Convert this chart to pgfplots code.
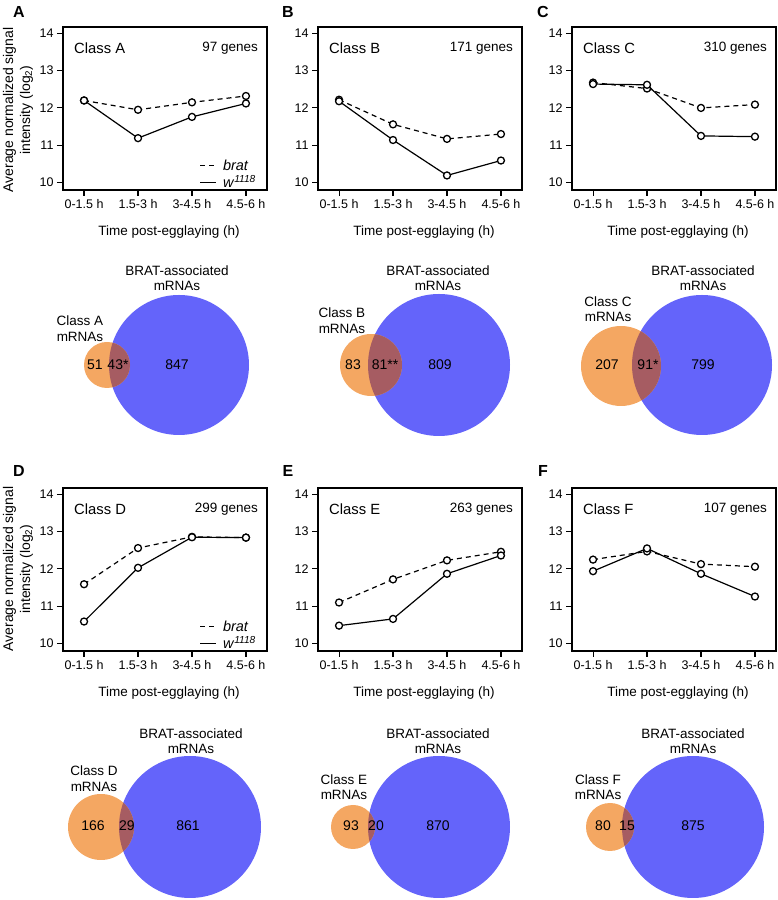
\documentclass[border=0pt]{standalone}
\usepackage{pgfplots}
\pgfplotsset{compat=1.18}
\usepackage{fontspec}
\setmainfont{Liberation Sans}
\definecolor{orangeC}{RGB}{244,167,98}
\definecolor{blueC}{RGB}{100,100,250}
\definecolor{overC}{RGB}{166,92,98}
\newcommand{\fs}[1]{\fontsize{#1}{#1}\selectfont}
\pgfplotsset{
  lineplot/.style={
    width=204pt, height=163pt, scale only axis,
    xmin=-0.39, xmax=3.39, ymin=9.8, ymax=14.17,
    xtick={0,1,2,3}, xticklabels={0-1.5 h,1.5-3 h,3-4.5 h,4.5-6 h},
    ytick={10,11,12,13,14},
    tick align=outside, xtick pos=bottom, ytick pos=left,
    major tick length=6pt,
    axis line style={line width=1.2pt},
    every tick/.style={line width=1.1pt, black},
    tick label style={font=\fs{12.5}},
    /pgf/number format/assume math mode=true,
    clip=false,
    legend style={at={(0.956,-0.01)}, anchor=south east, draw=none, fill=none,
      font=\fs{14.5}, row sep=0pt, inner sep=0pt},
    legend cell align=left,
    legend image code/.code={\draw[##1] (0pt,0pt) -- (16pt,0pt); \path (20pt,0pt);},
  },
  bratS/.style={black, line width=1.2pt, dash pattern=on 5pt off 4pt, mark=*, mark size=3.5pt,
    mark options={solid, fill=white, line width=1.3pt}},
  wS/.style={black, line width=1.2pt, mark=*, mark size=3.5pt,
    mark options={solid, fill=white, line width=1.3pt}},
}
\newcommand{\classlabels}[2]{%
  \node[anchor=west, font=\fs{14.8}, inner sep=0pt] at (rel axis cs:0.054,0.87) {#1};
  \node[anchor=east, font=\fs{13.5}, inner sep=0pt] at (rel axis cs:0.956,0.87) {#2};}
\begin{document}
\begin{tikzpicture}[x=1pt,y=1pt]
\useasboundingbox (0,0) rectangle (778,900);

% ---------- Row 1 ----------
\begin{axis}[lineplot, at={(63pt,710pt)}, anchor=south west]
\addplot[bratS] coordinates {(0,12.20) (1,11.95) (2,12.15) (3,12.32)};
\addplot[wS] coordinates {(0,12.20) (1,11.19) (2,11.76) (3,12.12)};
\legend{\textit{brat},\textit{w}\textsuperscript{\textit{1118}}}
\classlabels{Class A}{97 genes}
\end{axis}

\begin{axis}[lineplot, at={(318pt,710pt)}, anchor=south west]
\addplot[bratS] coordinates {(0,12.22) (1,11.56) (2,11.17) (3,11.30)};
\addplot[wS] coordinates {(0,12.18) (1,11.14) (2,10.19) (3,10.59)};
\classlabels{Class B}{171 genes}
\end{axis}

\begin{axis}[lineplot, at={(572pt,710pt)}, anchor=south west]
\addplot[bratS] coordinates {(0,12.68) (1,12.52) (2,12.00) (3,12.09)};
\addplot[wS] coordinates {(0,12.64) (1,12.62) (2,11.25) (3,11.23)};
\classlabels{Class C}{310 genes}
\end{axis}

% ---------- Row 2 ----------
\begin{axis}[lineplot, at={(63pt,249pt)}, anchor=south west]
\addplot[bratS] coordinates {(0,11.59) (1,12.56) (2,12.86) (3,12.84)};
\addplot[wS] coordinates {(0,10.59) (1,12.03) (2,12.85) (3,12.84)};
\legend{\textit{brat},\textit{w}\textsuperscript{\textit{1118}}}
\classlabels{Class D}{299 genes}
\end{axis}

\begin{axis}[lineplot, at={(318pt,249pt)}, anchor=south west]
\addplot[bratS] coordinates {(0,11.10) (1,11.72) (2,12.23) (3,12.46)};
\addplot[wS] coordinates {(0,10.48) (1,10.66) (2,11.87) (3,12.36)};
\classlabels{Class E}{263 genes}
\end{axis}

\begin{axis}[lineplot, at={(572pt,249pt)}, anchor=south west]
\addplot[bratS] coordinates {(0,12.25) (1,12.47) (2,12.13) (3,12.06)};
\addplot[wS] coordinates {(0,11.94) (1,12.55) (2,11.87) (3,11.26)};
\classlabels{Class F}{107 genes}
\end{axis}

% ---------- Venn diagrams (overlay axis in pixel units) ----------
\begin{axis}[at={(0pt,0pt)}, anchor=south west, width=778pt, height=900pt, scale only axis,
  xmin=0, xmax=778, ymin=0, ymax=900, hide axis, clip=false]
% A
\fill[blueC] (axis cs:179,535) circle[radius=70];
\fill[orangeC] (axis cs:107,535) circle[radius=23];
\begin{scope}\clip (axis cs:107,535) circle[radius=23]; \fill[overC] (axis cs:179,535) circle[radius=70];\end{scope}
% B
\fill[blueC] (axis cs:439,535) circle[radius=71];
\fill[orangeC] (axis cs:371,535) circle[radius=31];
\begin{scope}\clip (axis cs:371,535) circle[radius=31]; \fill[overC] (axis cs:439,535) circle[radius=71];\end{scope}
% C
\fill[blueC] (axis cs:702,535) circle[radius=70];
\fill[orangeC] (axis cs:621,534) circle[radius=40];
\begin{scope}\clip (axis cs:621,534) circle[radius=40]; \fill[overC] (axis cs:702,535) circle[radius=70];\end{scope}
% D
\fill[blueC] (axis cs:190,73) circle[radius=71];
\fill[orangeC] (axis cs:101,73) circle[radius=33];
\begin{scope}\clip (axis cs:101,73) circle[radius=33]; \fill[overC] (axis cs:190,73) circle[radius=71];\end{scope}
% E
\fill[blueC] (axis cs:439,73) circle[radius=71];
\fill[orangeC] (axis cs:353,73) circle[radius=22];
\begin{scope}\clip (axis cs:353,73) circle[radius=22]; \fill[overC] (axis cs:439,73) circle[radius=71];\end{scope}
% F
\fill[blueC] (axis cs:693,73) circle[radius=71];
\fill[orangeC] (axis cs:610,73) circle[radius=24];
\begin{scope}\clip (axis cs:610,73) circle[radius=24]; \fill[overC] (axis cs:693,73) circle[radius=71];\end{scope}
\end{axis}

% ---------- Venn texts ----------
\begin{scope}[every node/.style={font=\fs{14}}]
\node at (95,535) {51}; \node at (118,535) {43*}; \node at (177,535) {847};
\node at (353,535) {83}; \node at (385,535) {81**}; \node at (440,535) {809};
\node at (607,535) {207}; \node at (648,535) {91*}; \node at (703,535) {799};
\node at (93,74) {166}; \node at (127,74) {29}; \node at (188,74) {861};
\node at (351,74) {93}; \node at (376,74) {20}; \node at (438,74) {870};
\node at (603,74) {80}; \node at (627,74) {15}; \node at (693,74) {875};
\end{scope}
\begin{scope}[every node/.style={font=\fs{13.5}, align=center, inner sep=0pt}]
\node at (80,571.5) {Class A\\[2pt]mRNAs};
\node at (342,579.5) {Class B\\[2pt]mRNAs};
\node at (608,591) {Class C\\[2pt]mRNAs};
\node at (94,121.5) {Class D\\[2pt]mRNAs};
\node at (344,113) {Class E\\[2pt]mRNAs};
\node at (598,113) {Class F\\[2pt]mRNAs};
\node at (177,622) {BRAT-associated\\[2pt]mRNAs};
\node at (438,622) {BRAT-associated\\[2pt]mRNAs};
\node at (703,622) {BRAT-associated\\[2pt]mRNAs};
\node at (191,159) {BRAT-associated\\[2pt]mRNAs};
\node at (438,159) {BRAT-associated\\[2pt]mRNAs};
\node at (693,159) {BRAT-associated\\[2pt]mRNAs};
\end{scope}

% ---------- axis titles ----------
\begin{scope}[every node/.style={font=\fs{13.5}}]
\node at (169,668) {Time post-egglaying (h)};
\node at (424,668) {Time post-egglaying (h)};
\node at (678,668) {Time post-egglaying (h)};
\node at (169,207) {Time post-egglaying (h)};
\node at (424,207) {Time post-egglaying (h)};
\node at (678,207) {Time post-egglaying (h)};
\end{scope}
\begin{scope}[every node/.style={font=\fs{14}, rotate=90, inner sep=0pt, anchor=base}]
\node at (13,790) {Average normalized signal};
\node at (30,790) {intensity (log\textsubscript{2})};
\node at (13,331) {Average normalized signal};
\node at (30,331) {intensity (log\textsubscript{2})};
\end{scope}
\begin{scope}[every node/.style={font=\fs{16}\bfseries}]
\node at (19,888) {A}; \node at (288,888) {B}; \node at (543,888) {C};
\node at (19,429) {D}; \node at (288,429) {E}; \node at (543,429) {F};
\end{scope}
\end{tikzpicture}
\end{document}
